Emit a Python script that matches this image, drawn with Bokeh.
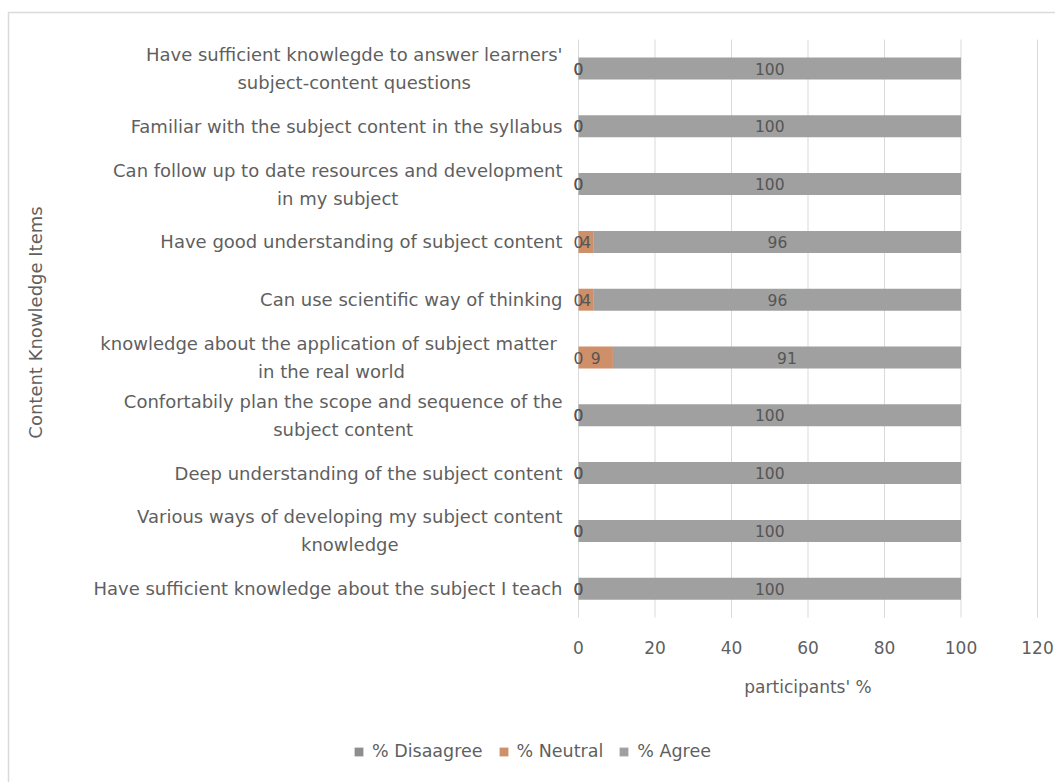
import numpy as np
from bokeh.plotting import figure
from bokeh.models import (ColumnDataSource, Range1d, Label, LabelSet,
                          Legend, LegendItem)
from bokeh.core.properties import value
from bokeh.embed import file_html
from bokeh.resources import INLINE

# Survey items, listed top to bottom as they appear on the chart
items = [
    "Have sufficient knowlegde to answer learners'\nsubject-content questions",
    "Familiar with the subject content in the syllabus",
    "Can follow up to date resources and development\nin my subject",
    "Have good understanding of subject content",
    "Can use scientific way of thinking",
    "knowledge about the application of  subject matter\nin the real world",
    "Confortabily plan the scope and sequence of the\nsubject content",
    "Deep understanding of the subject content",
    "Various ways of developing my subject content\nknowledge",
    "Have sufficient knowledge about the subject I teach",
]
disagree = [0, 0, 0, 0, 0, 0, 0, 0, 0, 0]
neutral = [0, 0, 0, 4, 4, 9, 0, 0, 0, 0]
agree = [100, 100, 100, 96, 96, 91, 100, 100, 100, 100]
x_ticks = [0, 20, 40, 60, 80, 100, 120]

series_names = ["% Disaagree", "% Neutral", "% Agree"]
colors = ["#8e8e8e", "#cf8f68", "#a0a0a0"]

FONT = "DejaVu Sans"
TEXT = "#5f5f5f"

# Page layout: the plotting frame fills the page; the value scale runs
# from x=578px (0) with 3.825px per percent, item rows are 57.8px apart
W, H = 1055, 782
ZERO_PX, PX_PER_UNIT = 578, 3.825
TOP_ROW_PX, ROW_PX = 68, 57.8
n = len(items)


def x_at(px):
    return (px - ZERO_PX) / PX_PER_UNIT


def y_at(py):
    return (n - 1) - (py - TOP_ROW_PX) / ROW_PX


dis = np.array(disagree, dtype=float)
neu = np.array(neutral, dtype=float)
agr = np.array(agree, dtype=float)
row = (n - 1) - np.arange(n)          # top item on the highest row

src = ColumnDataSource(dict(
    row=row, item=items, dis=dis, neu=neu, agr=agr,
    dis_mid=dis / 2, neu_mid=dis + neu / 2, agr_mid=dis + neu + agr / 2,
    dis_txt=[str(v) for v in disagree],
    neu_txt=[str(v) for v in neutral],
    agr_txt=[str(v) for v in agree],
))

p = figure(
    x_range=Range1d(x_at(0), x_at(W)), y_range=Range1d(y_at(H), y_at(0)),
    width=W, height=H,
    x_axis_location=None, y_axis_location=None,
    output_backend="svg", toolbar_location=None,
    min_border=0,
)
p.outline_line_color = None
p.background_fill_color = "white"
p.border_fill_color = "white"
p.xgrid.grid_line_color = None
p.ygrid.grid_line_color = None

# Chart border (top and left edges fall inside the page)
p.quad(left=x_at(8), right=x_at(W + 10), top=y_at(12), bottom=y_at(H + 10),
       fill_color=None, line_color="#dadada", line_width=1.5)

# Vertical grid lines over the rows' extent
p.segment(x0=x_ticks, x1=x_ticks, y0=-0.5, y1=n - 0.5,
          line_color="#d9d9d9", line_width=1)

bars = p.hbar_stack(["dis", "neu", "agr"], y="row", height=0.38,
                    color=colors, line_color=None, source=src)

# Value labels at the middle of each segment
for xcol, tcol in [("dis_mid", "dis_txt"), ("neu_mid", "neu_txt"), ("agr_mid", "agr_txt")]:
    p.add_layout(LabelSet(x=xcol, y="row", text=tcol, source=src,
                          text_align="center", text_baseline="middle",
                          text_font=value(FONT), text_font_size="15.5px",
                          text_color="#555555"))

# Item labels, right-aligned against the bars with centred lines
for it, r in zip(items, row):
    p.add_layout(Label(x=0, y=float(r), x_offset=-16, text=it, anchor="center_right",
                       text_align="center", text_baseline="middle",
                       text_font=FONT, text_font_size="18px",
                       text_color=TEXT, text_line_height=1.33))

# Value-axis tick labels and title
p.text(x=x_ticks, y=y_at(647), text=[str(t) for t in x_ticks],
       text_align="center", text_baseline="middle",
       text_font=value(FONT), text_font_size="17px", text_color=TEXT)
p.add_layout(Label(x=60, y=y_at(686), text="participants' %",
                   text_align="center", text_baseline="middle",
                   text_font=FONT, text_font_size="17px", text_color=TEXT))

# Category-axis title
p.add_layout(Label(x=x_at(35), y=y_at(322), text="Content Knowledge Items",
                   angle=np.pi / 2, text_align="center", text_baseline="middle",
                   text_font=FONT, text_font_size="18px", text_color=TEXT))

legend = Legend(
    items=[LegendItem(label=nm, renderers=[r]) for nm, r in zip(series_names, bars)],
    orientation="horizontal", location=(353, H - 761), margin=0, padding=0,
    background_fill_alpha=0, border_line_color=None,
    glyph_width=11, glyph_height=11, label_standoff=8, spacing=15,
    label_text_font=FONT, label_text_font_size="17.5px", label_text_color=TEXT,
)
p.add_layout(legend)

open("out.html", "w").write(file_html(p, INLINE))
